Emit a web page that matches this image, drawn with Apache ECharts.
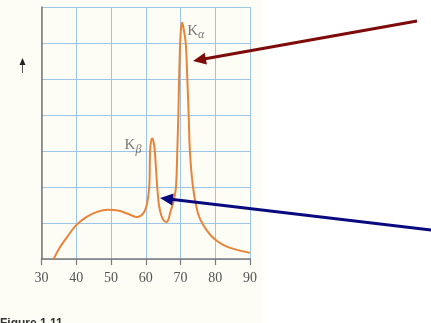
<!DOCTYPE html>
<html><head><meta charset="utf-8">
<script src="https://cdn.jsdelivr.net/npm/echarts@6/dist/echarts.min.js"></script>
<style>html,body{margin:0;padding:0;background:#fdfdf6}#c{width:431px;height:323px}</style>
</head><body><div id="c"></div>
<script>
// X-ray spectrum: wavelength-like axis (30..90) vs intensity
const xTicks = [30, 40, 50, 60, 70, 80, 90];
const curveX = [33.5, 35, 37, 40, 43, 46, 49, 52, 55, 57.3, 58.5, 59.5, 60.3, 61.0, 61.25, 61.55, 61.9, 62.25, 62.6, 63.3, 63.8, 64.5, 65.3, 66.0, 66.7, 67.0, 68.0, 68.7, 69.08, 69.37, 69.6, 69.9, 70.2, 70.5, 70.8, 71.5, 71.96, 72.35, 72.7, 73.6, 75.0, 76.5, 78.5, 80.5, 83, 86, 90];
const curveY = [0, 0.28, 0.56, 0.94, 1.17, 1.31, 1.37, 1.35, 1.25, 1.17, 1.2, 1.3, 1.5, 2.0, 3.0, 3.28, 3.35, 3.25, 3.0, 2.0, 1.5, 1.2, 1.06, 1.03, 1.15, 1.28, 1.6, 2.0, 3.0, 4.0, 5.0, 6.0, 6.45, 6.56, 6.45, 6.0, 5.0, 4.0, 3.0, 2.0, 1.28, 0.95, 0.68, 0.5, 0.36, 0.26, 0.17];
const peakLabels = [
  { name: 'K', sub: 'α', x: 70.5, y: 6.56 },
  { name: 'K', sub: 'β', x: 61.9, y: 3.35 }
];

const chart = echarts.init(document.getElementById('c'));
const serif = '"Liberation Serif","DejaVu Serif",serif';

function arrow(x1, y1, x2, y2, color, w) {
  const dx = x2 - x1, dy = y2 - y1, L = Math.sqrt(dx*dx + dy*dy);
  const ux = dx / L, uy = dy / L, hl = 13, hw = 6;
  const bx = x2 - ux*hl, by = y2 - uy*hl;
  return [
    { type: 'line', shape: { x1: x1, y1: y1, x2: bx + ux*2, y2: by + uy*2 }, style: { stroke: color, lineWidth: w }, z: 100 },
    { type: 'polygon', shape: { points: [[x2, y2], [bx - uy*hw, by + ux*hw], [bx + uy*hw, by - ux*hw]] }, style: { fill: color }, z: 100 }
  ];
}

const option = {
  animation: false,
  backgroundColor: '#fdfdf6',
  grid: { left: 41.5, right: 181, top: 7, bottom: 64, show: false },
  xAxis: {
    type: 'value', min: xTicks[0], max: xTicks[xTicks.length - 1], interval: 10,
    axisLine: { show: true, lineStyle: { color: '#7a7a7a', width: 1.5 } },
    axisTick: { show: true, length: 6, lineStyle: { color: '#7a7a7a', width: 1.2 } },
    axisLabel: { color: '#555', fontFamily: serif, fontSize: 14, margin: 12 },
    splitLine: { show: true, lineStyle: { color: '#9cc6e8', width: 1 } }
  },
  yAxis: {
    type: 'value', min: 0, max: 7, interval: 1,
    axisLine: { show: true, lineStyle: { color: '#7a7a7a', width: 1.5 } },
    axisTick: { show: false },
    axisLabel: { show: false },
    splitLine: { show: true, lineStyle: { color: '#9cc6e8', width: 1 } }
  },
  series: [{
    type: 'line',
    data: curveX.map((x, i) => [x, curveY[i]]),
    smooth: 0.35,
    symbol: 'none',
    lineStyle: { color: '#e8843a', width: 2 },
    z: 5
  }, {
    type: 'scatter',
    symbolSize: 0,
    data: peakLabels.map(p => ({ value: [p.x, p.y], name: p.name, sub: p.sub })),
    label: {
      show: true,
      formatter: p => '{k|' + p.data.name + '}{s|' + p.data.sub + '}',
      rich: {
        k: { fontFamily: serif, fontSize: 15, color: '#555' },
        s: { fontFamily: serif, fontStyle: 'italic', fontSize: 12, color: '#555', padding: [8, 0, 0, 0] }
      }
    },
    z: 6
  }],
  graphic: [
    { type: 'rect', shape: { x: 263, y: 0, width: 168, height: 323 }, style: { fill: '#ffffff' }, z: -10, silent: true }
  ]
    .concat(arrow(417, 21, 193, 61, '#7e0a0a', 3))
    .concat(arrow(431, 230, 160, 198, '#0a0a80', 3))
    .concat([
      { type: 'line', shape: { x1: 22.5, y1: 73, x2: 22.5, y2: 64 }, style: { stroke: '#555', lineWidth: 1 }, z: 100 },
      { type: 'polygon', shape: { points: [[22.5, 58], [19.5, 65], [25.5, 65]] }, style: { fill: '#222' }, z: 100 },
      { type: 'text', left: 0, top: 318, style: { text: 'Figure 1.11', font: 'bold 12px "Liberation Sans",sans-serif', fill: '#333' }, z: 100 }
    ])
};
option.series[1].data[0].label = { position: 'right', offset: [0, 8] };
option.series[1].data[1].label = { position: 'left', offset: [-6, 7] };
chart.setOption(option);
</script></body></html>
